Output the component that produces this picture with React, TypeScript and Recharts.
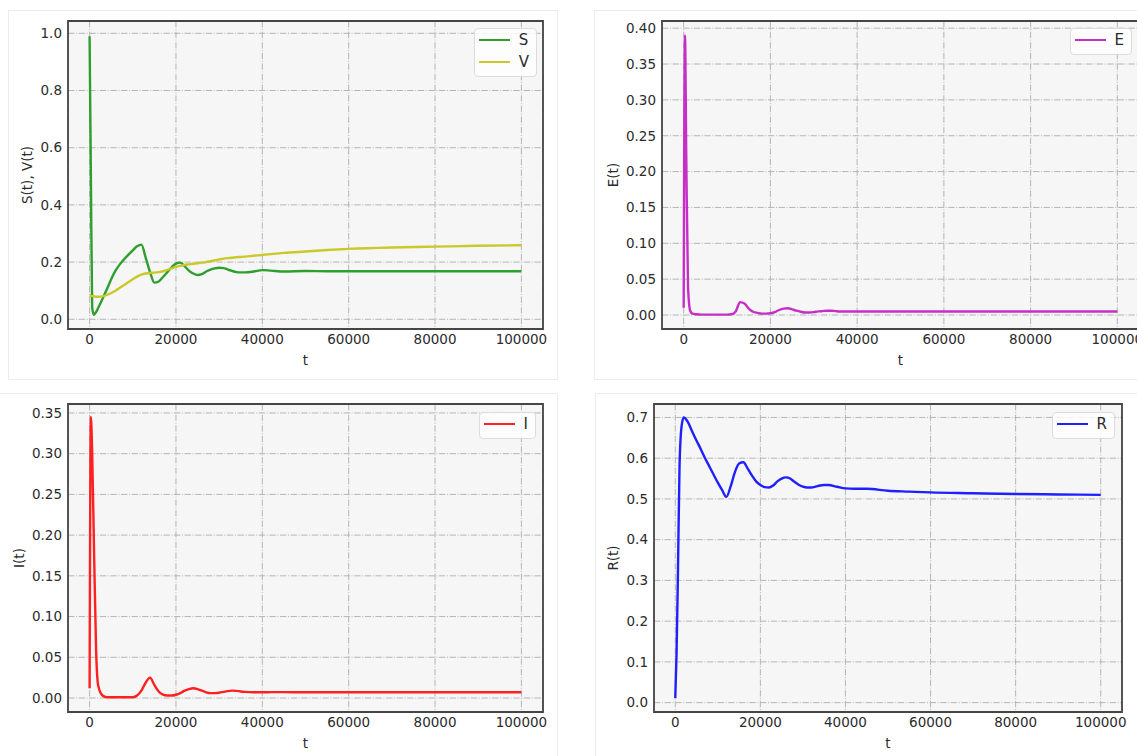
import { LineChart, Line, XAxis, YAxis, CartesianGrid, Legend, ReferenceArea } from 'recharts';

// time grid shared by every series (denser where the curves move fast)
const tValues = [
  0, 300, 600, 1000, 1500, 2000, 3000, 4000, 5000, 6000, 7000, 8000, 9000, 10000,
  11000, 12000, 13000, 14000, 15000, 16000, 17000, 18000, 19000, 20000, 21000, 22000,
  23000, 24000, 25000, 26000, 27000, 28000, 29000, 30000, 31000, 32000, 33000, 34000,
  35000, 36000, 38000, 40000, 42000, 45000, 50000, 55000, 60000, 70000, 80000, 90000, 100000,
];

const sValues = [
  0.99, 0.5, 0.04, 0.016, 0.025, 0.04, 0.072, 0.105, 0.14, 0.17, 0.192, 0.21, 0.226, 0.241,
  0.255, 0.261, 0.215, 0.165, 0.128, 0.132, 0.148, 0.165, 0.182, 0.195, 0.198, 0.186,
  0.17, 0.16, 0.155, 0.158, 0.167, 0.174, 0.178, 0.18, 0.179, 0.174, 0.169, 0.165,
  0.164, 0.164, 0.167, 0.172, 0.17, 0.167, 0.169, 0.168, 0.168, 0.168, 0.168, 0.168, 0.168,
];

const vValues = [
  0.083, 0.082, 0.081, 0.08, 0.079, 0.079, 0.08, 0.085, 0.092, 0.1, 0.11, 0.12, 0.13, 0.14,
  0.149, 0.156, 0.16, 0.162, 0.163, 0.165, 0.168, 0.173, 0.178, 0.183, 0.187, 0.19,
  0.192, 0.194, 0.196, 0.198, 0.2, 0.203, 0.206, 0.209, 0.212, 0.214, 0.215, 0.217,
  0.218, 0.219, 0.222, 0.225, 0.228, 0.232, 0.237, 0.242, 0.246, 0.251, 0.254, 0.257, 0.259,
];

const eValues = [
  0.01, 0.39, 0.22, 0.04, 0.006, 0.002, 0.001, 0.0005, 0.0005, 0.0005, 0.0005, 0.0005, 0.0005, 0.0005,
  0.001, 0.005, 0.018, 0.016, 0.009, 0.0045, 0.003, 0.002, 0.002, 0.0025, 0.004, 0.007,
  0.009, 0.0095, 0.008, 0.006, 0.0045, 0.0035, 0.0035, 0.004, 0.005, 0.0055, 0.006, 0.006,
  0.0055, 0.005, 0.0048, 0.005, 0.005, 0.005, 0.005, 0.005, 0.005, 0.005, 0.005, 0.005, 0.005,
];

const iValues = [
  0.012, 0.345, 0.3, 0.19, 0.06, 0.015, 0.003, 0.001, 0.001, 0.001, 0.001, 0.001, 0.001, 0.001,
  0.003, 0.009, 0.019, 0.025, 0.016, 0.008, 0.004, 0.003, 0.003, 0.004, 0.006, 0.009,
  0.011, 0.012, 0.011, 0.009, 0.007, 0.006, 0.006, 0.0065, 0.0075, 0.0085, 0.009, 0.0088,
  0.008, 0.0075, 0.007, 0.007, 0.0072, 0.0072, 0.007, 0.007, 0.007, 0.007, 0.007, 0.007, 0.007,
];

const rValues = [
  0.011, 0.12, 0.3, 0.58, 0.68, 0.7, 0.688, 0.665, 0.643, 0.622, 0.6, 0.58, 0.56, 0.54,
  0.522, 0.505, 0.53, 0.565, 0.587, 0.59, 0.575, 0.558, 0.543, 0.534, 0.529, 0.528,
  0.533, 0.543, 0.55, 0.553, 0.55, 0.542, 0.535, 0.53, 0.528, 0.528, 0.53, 0.533,
  0.534, 0.534, 0.53, 0.526, 0.525, 0.525, 0.52, 0.518, 0.516, 0.514, 0.512, 0.511, 0.51,
];

const xTicks = [0, 20000, 40000, 60000, 80000, 100000];
const svTicks = [0, 0.2, 0.4, 0.6, 0.8, 1.0];
const eTicks = [0, 0.05, 0.1, 0.15, 0.2, 0.25, 0.3, 0.35, 0.4];
const iTicks = [0, 0.05, 0.1, 0.15, 0.2, 0.25, 0.3, 0.35];
const rTicks = [0, 0.1, 0.2, 0.3, 0.4, 0.5, 0.6, 0.7];

const rows = tValues.map((t, i) => ({
  t,
  S: sValues[i],
  V: vValues[i],
  E: eValues[i],
  I: iValues[i],
  R: rValues[i],
}));

const font = '"DejaVu Sans", sans-serif';
const textColor = '#2b2b2b';
const fontSize = 13.5;
const xDomain: [number, number] = [-5000, 105000];

type Series = { key: string; color: string };

interface PanelProps {
  left: number;
  top: number;
  width: number;
  height: number;
  marginTop: number;
  marginRight: number;
  yWidth: number;
  xHeight: number;
  yDomain: [number, number];
  yTicks: number[];
  digits: number;
  yLabel: string;
  yLabelOffset: number;
  xLabelOffset: number;
  series: Series[];
  legendTop: number;
  legendRight: number;
}

const renderLegend = (props: any) => {
  const payload = props.payload || [];
  return (
    <div
      style={{
        background: 'rgba(255,255,255,0.8)',
        border: '1px solid #dcdcdc',
        borderRadius: 4,
        padding: '0 7px 3px 4px',
        fontFamily: font,
        fontSize: 15,
        color: textColor,
      }}
    >
      {payload.map((p: any) => (
        <div key={p.value} style={{ display: 'flex', alignItems: 'center', height: 22 }}>
          <span style={{ display: 'inline-block', width: 31, height: 2.5, background: p.color, marginRight: 9 }} />
          <span>{p.value}</span>
        </div>
      ))}
    </div>
  );
};

function Panel(p: PanelProps) {
  return (
    <div style={{ position: 'absolute', left: p.left, top: p.top }}>
      <LineChart
        width={p.width}
        height={p.height}
        data={rows}
        margin={{ top: p.marginTop, right: p.marginRight, bottom: 0, left: 0 }}
      >
        <CartesianGrid
          fill="#f6f6f6"
          stroke="#b5b5b5"
          strokeDasharray="6.4 1.6 1 1.6"
        />
        <XAxis
          dataKey="t"
          type="number"
          domain={xDomain}
          ticks={xTicks}
          allowDataOverflow
          height={p.xHeight}
          axisLine={false}
          tickLine={false}
          tickSize={4}
          tickMargin={1}
          tick={{ fontSize, fill: textColor, fontFamily: font }}
          label={{ value: 't', position: 'insideBottom', offset: p.xLabelOffset, fontSize, fill: textColor, fontFamily: font }}
        />
        <YAxis
          type="number"
          domain={p.yDomain}
          ticks={p.yTicks}
          allowDataOverflow
          width={p.yWidth}
          axisLine={false}
          tickLine={false}
          tickSize={4}
          tickMargin={2}
          tickFormatter={(v: number) => v.toFixed(p.digits)}
          tick={{ fontSize, fill: textColor, fontFamily: font }}
          label={{
            value: p.yLabel,
            angle: -90,
            position: 'insideLeft',
            offset: p.yLabelOffset,
            fontSize,
            fill: textColor,
            fontFamily: font,
            style: { textAnchor: 'middle' },
          }}
        />
        <ReferenceArea
          x1={xDomain[0]}
          x2={xDomain[1]}
          y1={p.yDomain[0]}
          y2={p.yDomain[1]}
          fill="none"
          fillOpacity={0}
          stroke="#454545"
          strokeWidth={1.8}
          ifOverflow="visible"
        />
        {p.series.map((s) => (
          <Line
            key={s.key}
            dataKey={s.key}
            name={s.key}
            type="monotone"
            stroke={s.color}
            strokeWidth={2.4}
            dot={false}
            isAnimationActive={false}
          />
        ))}
        <Legend
          layout="horizontal"
          verticalAlign="middle"
          align="center"
          wrapperStyle={{ top: p.legendTop, right: p.legendRight, left: 'auto', width: 'auto', height: 'auto' }}
          content={renderLegend}
        />
      </LineChart>
    </div>
  );
}

const cardStyle = (left: number, top: number, width: number, height: number) => ({
  position: 'absolute' as const,
  left,
  top,
  width,
  height,
  border: '1px solid #ececec',
  background: '#fff',
});

export default function App() {
  return (
    <div
      style={{
        position: 'absolute',
        left: 0,
        top: 0,
        width: 1137,
        height: 756,
        overflow: 'hidden',
        background: '#fff',
      }}
    >
      <div style={cardStyle(8, 10, 548, 368)} />
      <div style={cardStyle(594, 10, 560, 368)} />
      <div style={cardStyle(-1, 393, 557, 400)} />
      <div style={cardStyle(595, 393, 560, 400)} />

      <Panel
        left={0} top={0} width={560} height={380}
        marginTop={21} marginRight={17} yWidth={68} xHeight={51}
        yDomain={[-0.034, 1.043]} yTicks={svTicks} digits={1}
        yLabel="S(t), V(t)" yLabelOffset={27} xLabelOffset={15}
        series={[{ key: 'S', color: '#2e9e2e' }, { key: 'V', color: '#c9c92a' }]}
        legendTop={28} legendRight={23}
      />
      <Panel
        left={570} top={0} width={580} height={380}
        marginTop={21} marginRight={11} yWidth={92} xHeight={51}
        yDomain={[-0.0195, 0.41]} yTicks={eTicks} digits={2}
        yLabel="E(t)" yLabelOffset={43} xLabelOffset={15}
        series={[{ key: 'E', color: '#c62fc6' }]}
        legendTop={28} legendRight={18}
      />
      <Panel
        left={0} top={380} width={560} height={376}
        marginTop={24} marginRight={17} yWidth={68} xHeight={44}
        yDomain={[-0.0172, 0.361]} yTicks={iTicks} digits={2}
        yLabel="I(t)" yLabelOffset={19} xLabelOffset={8}
        series={[{ key: 'I', color: '#ff2020' }]}
        legendTop={32} legendRight={24}
      />
      <Panel
        left={570} top={380} width={567} height={376}
        marginTop={24} marginRight={15} yWidth={84} xHeight={44}
        yDomain={[-0.023, 0.733]} yTicks={rTicks} digits={1}
        yLabel="R(t)" yLabelOffset={43} xLabelOffset={8}
        series={[{ key: 'R', color: '#2020ff' }]}
        legendTop={32} legendRight={22}
      />
    </div>
  );
}
